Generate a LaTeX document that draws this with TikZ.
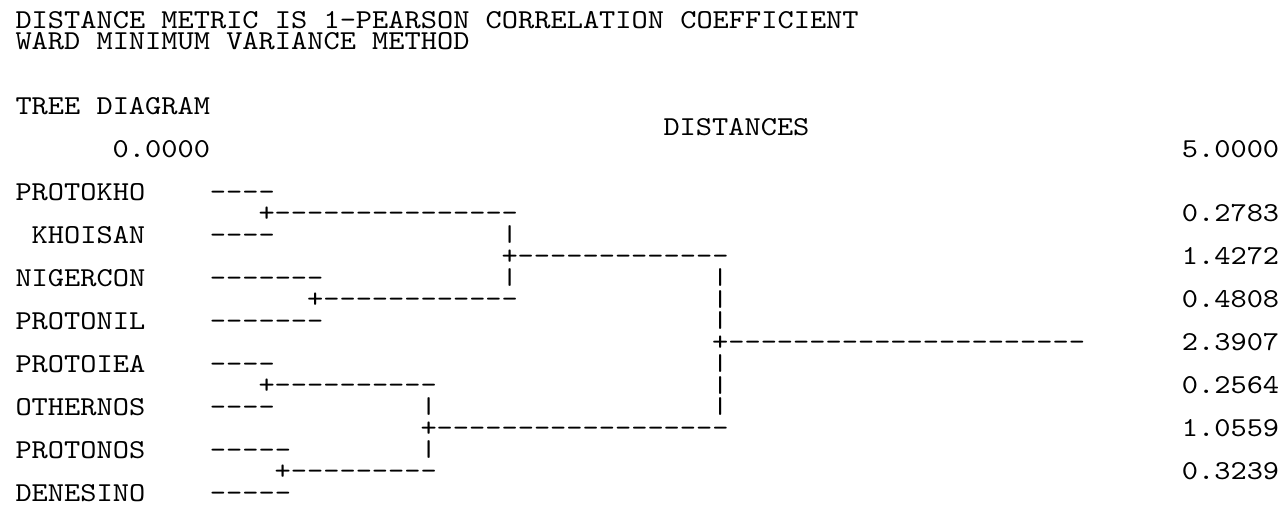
\documentclass[tikz,border=0pt]{standalone}
\usepackage{fontspec}
\usepackage{graphicx}
\setmonofont{lmmono10-regular}[Extension=.otf, FakeStretch=1.13]

\begin{document}
\begin{tikzpicture}[
    x=12.15pt, y=-16.125pt,
    txt/.style={anchor=base west, inner sep=0pt, outer sep=0pt,
      font=\ttfamily\fontsize{20.5}{24}\selectfont},
    bar/.style={anchor=center, inner sep=0pt, outer sep=0pt,
      font=\ttfamily\fontsize{20.5}{24}\selectfont}
  ]
  \fill[white] (-0.957,-1.3186) rectangle (78.364,22.356);
  \useasboundingbox (-0.957,-1.3186) rectangle (78.364,22.356);
  % headings
  \node[txt] (title) at (0,0) {DISTANCE METRIC IS 1-PEARSON CORRELATION COEFFICIENT};
  \node[txt] (method) at (0,1) {WARD MINIMUM VARIANCE METHOD};
  \node[txt] (tree) at (0,4) {TREE DIAGRAM};
  \node[txt] (axis) at (40,5) {DISTANCES};
  \node[txt] (dmin) at (6,6) {0.0000};
  \node[txt] (dmax) at (72,6) {5.0000};
  % leaves and their stubs
  \foreach \leaf/\row/\ind/\stub in {PROTOKHO/8/0/----, KHOISAN/10/1/----,
      NIGERCON/12/0/-------, PROTONIL/14/0/-------, PROTOIEA/16/0/----,
      OTHERNOS/18/0/----, PROTONOS/20/0/-----, DENESINO/22/0/-----}{
    \node[txt] (\leaf) at (\ind,\row) {\leaf};
    \node[txt] (\leaf-stub) at (12,\row) {\stub};
  }
  % joins
  \foreach \join/\col/\row/\run in {j1/15/9/---------------, j2/30/11/-------------,
      j3/18/13/------------, root/43/15/----------------------, j4/15/17/----------,
      j5/25/19/------------------, j6/16/21/---------}
    \node[txt] (\join) at (\col,\row) {+\run};
  % uprights
  \foreach \col/\row in {30/10, 30/12, 43/12, 43/13, 43/14, 43/16, 43/17, 43/18,
      25/18, 25/20}
    \node[bar] at (\col+0.5,\row-0.388) {\resizebox*{\width}{13.3pt}{|}};
  % merge heights
  \foreach \val [count=\i] in {0.2783,1.4272,0.4808,2.3907,0.2564,1.0559,0.3239}
    \node[txt] (h\i) at (72,{7+2*\i}) {\val};
\end{tikzpicture}
\end{document}
